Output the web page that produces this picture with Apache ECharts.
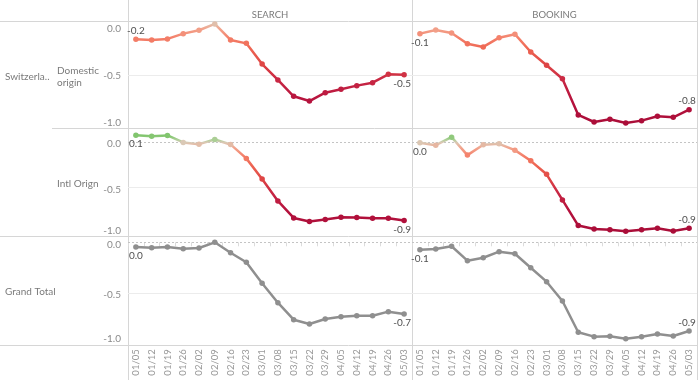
<!DOCTYPE html>
<html><head><meta charset="utf-8">
<script src="https://cdn.jsdelivr.net/npm/echarts@6/dist/echarts.min.js"></script>
<style>html,body{margin:0;padding:0;background:#fff}#c{width:700px;height:380px}</style>
</head><body><div id="c"></div>
<script>
// ---- data ----
const weeks = ['01/05','01/12','01/19','01/26','02/02','02/09','02/16','02/23','03/01','03/08','03/15','03/22','03/29','04/05','04/12','04/19','04/26','05/03'];
const columnHeaders = ['SEARCH','BOOKING'];
const yTickValues = [-1, -0.5, 0];
const domesticSearch  = [-0.161,-0.168,-0.158,-0.108,-0.076,-0.016,-0.168,-0.200,-0.396,-0.547,-0.702,-0.747,-0.668,-0.636,-0.601,-0.573,-0.494,-0.497];
const domesticBooking = [-0.108,-0.073,-0.101,-0.203,-0.234,-0.146,-0.113,-0.282,-0.408,-0.535,-0.879,-0.946,-0.920,-0.955,-0.933,-0.892,-0.901,-0.829];
const intlSearch      = [0.080,0.069,0.077,0.000,-0.019,0.033,-0.022,-0.176,-0.404,-0.646,-0.834,-0.874,-0.852,-0.826,-0.830,-0.837,-0.837,-0.863];
const intlBooking     = [-0.004,-0.030,0.058,-0.140,-0.026,-0.015,-0.085,-0.203,-0.352,-0.635,-0.918,-0.955,-0.963,-0.980,-0.963,-0.947,-0.977,-0.947];
const totalSearch     = [-0.046,-0.053,-0.046,-0.063,-0.056,0.000,-0.102,-0.196,-0.402,-0.592,-0.759,-0.801,-0.752,-0.729,-0.720,-0.720,-0.680,-0.703];
const totalBooking    = [-0.072,-0.066,-0.039,-0.180,-0.151,-0.092,-0.112,-0.249,-0.386,-0.575,-0.882,-0.925,-0.922,-0.945,-0.925,-0.899,-0.919,-0.870];

// ---- styling ----
const FONT = 'Lato, "Open Sans", sans-serif';
const BORDER = '#d6d6d6';
const colorStops = [[-1.00,'#a90d38'],[-0.75,'#b5123d'],[-0.55,'#c82744'],[-0.40,'#df4645'],[-0.25,'#ee6653'],[-0.15,'#f47f69'],[-0.06,'#f2a48d'],[0,'#dac9b6'],[0.03,'#aecf98'],[0.07,'#84c670'],[0.16,'#6bbd5a']];
function hex(c){return [1,3,5].map(i=>parseInt(c.substr(i,2),16));}
function mix(a,b,t){const x=hex(a),y=hex(b);return 'rgb('+x.map((v,i)=>Math.round(v+(y[i]-v)*t)).join(',')+')';}
const VMIN=-1, VMAX=0.16;
const vmColors=[];
for(let k=0;k<=116;k++){const v=VMIN+k*0.01;let j=0;while(j<colorStops.length-2&&v>colorStops[j+1][0])j++;const a=colorStops[j],b=colorStops[j+1];const t=Math.max(0,Math.min(1,(v-a[0])/(b[0]-a[0])));vmColors.push(mix(a[1],b[1],t));}

const cols=[{left:128,width:284},{left:412,width:285}];
const rows=[
  {top:21,bottom:127.7,max:0.012,zeroLine:false,shift:{'0':6.5,'-0.5':1,'-1':-4.5}},
  {top:128.5,bottom:233,max:0.154,zeroLine:true,shift:{'0':1.5,'-0.5':2,'-1':-2.5}},
  {top:236.7,bottom:344.3,max:0.055,zeroLine:true,shift:{'0':2.5,'-0.5':1,'-1':-5.5}}
];
// label placement: [first, last]
const labelPos=[[['top','bottom'],['bottom','top']],[['bottom','bottom'],['bottom','top']],[['bottom','bottom'],['bottom','top']]];
const seriesData=[[domesticSearch,domesticBooking],[intlSearch,intlBooking],[totalSearch,totalBooking]];

function fmt(v){let s=v.toFixed(1);if(s==='-0.0')s='0.0';return s;}

const grids=[],xAxes=[],yAxes=[],series=[];
rows.forEach((r,ri)=>{
  cols.forEach((c,ci)=>{
    const gi=grids.length;
    grids.push({left:c.left,width:c.width,top:r.top,height:r.bottom-r.top,containLabel:false});
    const isBottom=ri===2;
    xAxes.push({type:'category',gridIndex:gi,data:weeks,boundaryGap:true,
      axisLine:{show:false},
      axisTick:{show:isBottom,length:4,lineStyle:{color:'#dcdcdc'}},
      axisLabel:{show:isBottom,rotate:90,margin:5,fontSize:9.5,color:'#9a9a9a',fontFamily:FONT,interval:0}});
    const rich={};
    Object.keys(r.shift).forEach((k,idx)=>{const d=r.shift[k];rich['s'+idx]={fontSize:10,color:'#8a8a8a',fontFamily:FONT,padding:d>0?[2*d,0,0,0]:[0,0,-2*d,0]};});
    yAxes.push({type:'value',gridIndex:gi,min:-1,max:r.max,interval:0.5,
      axisLine:{show:false},axisTick:{show:false},splitLine:{show:false},
      axisLabel:{show:ci===0,margin:7,fontSize:10,color:'#8a8a8a',fontFamily:FONT,rich:rich,
        formatter:function(v){const keys=Object.keys(r.shift);for(let i=0;i<keys.length;i++){if(Math.abs(v-Number(keys[i]))<1e-6)return '{s'+i+'|'+v.toFixed(1)+'}';}return '';}}});
    const vals=seriesData[ri][ci];
    const last=vals.length-1;
    const data=vals.map((v,i)=>{
      const item={value:[weeks[i],v]};
      if(i===0||i===last){
        const pos=labelPos[ri][ci][i===0?0:1];
        item.label={show:true,position:pos,distance:1,offset:[i===last?-2:0,0],
          formatter:p=>fmt(p.value[1]),fontSize:10,color:'#505050',fontFamily:FONT};
      }
      return item;
    });
    const grey='#8f8f8f';
    const refLines=[{yAxis:-0.5,lineStyle:{color:'#ececec',type:'solid',width:1}}];
    if(r.zeroLine)refLines.push({yAxis:0,lineStyle:{color:'#c4c4c4',type:[2,2],width:1}});
    const s={type:'line',xAxisIndex:gi,yAxisIndex:gi,data:data,symbol:'circle',symbolSize:5.5,
      lineStyle:{width:2.5},z:3,
      markLine:{silent:true,symbol:'none',z:1,label:{show:false},animation:false,data:refLines}};
    if(ri===2){s.itemStyle={color:grey};s.lineStyle.color=grey;}
    series.push(s);
  });
});

function hline(x1,x2,y){return {type:'line',shape:{x1:x1,y1:y,x2:x2,y2:y},style:{stroke:BORDER,lineWidth:1},silent:true};}
function vline(x,y1,y2){return {type:'line',shape:{x1:x,y1:y1,x2:x,y2:y2},style:{stroke:BORDER,lineWidth:1},silent:true};}
function txt(x,y,t,align,size){return {type:'text',x:x,y:y,silent:true,style:{text:t,fill:'#7a7a7a',font:size+'px '+FONT,textAlign:align||'left',textVerticalAlign:'middle',lineHeight:12}};}

const graphic=[
  hline(0,697,21.5), hline(52,697,128.5), hline(0,697,236.5), hline(0,697,345.5),
  vline(128.5,0,380), vline(412.5,0,380), vline(697.5,0,380),
  txt(270,14.5,columnHeaders[0],'center',9.5), txt(554.5,14.5,columnHeaders[1],'center',9.5),
  txt(5,76.5,'Switzerla..','left',10),
  txt(57,76.5,'Domestic\norigin','left',10),
  txt(57,183.5,'Intl Orign','left',10),
  txt(5,291.5,'Grand Total','left',10)
];

const chart=echarts.init(document.getElementById('c'),null,{renderer:'canvas'});
chart.setOption({
  animation:false,
  backgroundColor:'#fff',
  textStyle:{fontFamily:FONT},
  grid:grids,xAxis:xAxes,yAxis:yAxes,series:series,graphic:graphic,
  visualMap:[{type:'continuous',show:false,min:VMIN,max:VMAX,dimension:1,seriesIndex:[0,1,2,3],inRange:{color:vmColors}}]
});
</script></body></html>
